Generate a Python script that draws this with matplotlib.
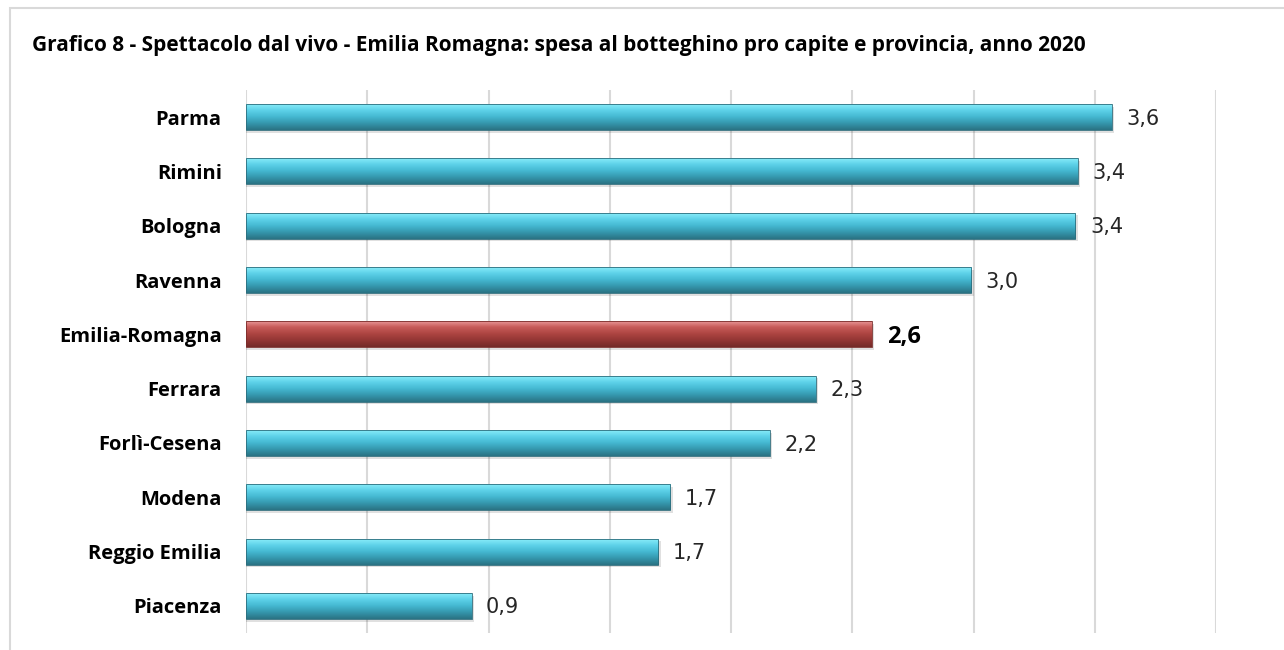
import numpy as np
import matplotlib.pyplot as plt
from matplotlib.colors import LinearSegmentedColormap
from matplotlib.patches import Rectangle

province = ['Parma', 'Rimini', 'Bologna', 'Ravenna', 'Emilia-Romagna',
            'Ferrara', 'Forlì-Cesena', 'Modena', 'Reggio Emilia', 'Piacenza']
spesa = [3.57, 3.43, 3.42, 2.99, 2.58, 2.35, 2.16, 1.75, 1.70, 0.93]
etichette = ['3,6', '3,4', '3,4', '3,0', '2,6', '2,3', '2,2', '1,7', '1,7', '0,9']
evidenza = 'Emilia-Romagna'

plt.rcParams['font.family'] = ['Open Sans', 'DejaVu Sans']

cmap_blu = LinearSegmentedColormap.from_list(
    'blu', ['#8ff0fb', '#5fd3ea', '#45b9d2', '#3597ad', '#2a7384'])
cmap_rosso = LinearSegmentedColormap.from_list(
    'rosso', ['#eea0a0', '#c85c5a', '#ae4542', '#933634', '#742a28'])

fig = plt.figure(figsize=(12.84, 6.5), dpi=100)
fig.patches.append(Rectangle((10 / 1284, -0.1), 1.2, 1.1 - 8 / 650,
                             transform=fig.transFigure, fill=False,
                             edgecolor='#d9d9d9', linewidth=1.5))
ax = fig.add_axes([246 / 1284, 17 / 650, (1216 - 246) / 1284, (633 - 90) / 650])

y = np.arange(len(province))
h = 0.48
grad = np.linspace(0, 1, 64).reshape(-1, 1)

for i, (nome, v) in enumerate(zip(province, spesa)):
    cm = cmap_rosso if nome == evidenza else cmap_blu
    # ombra
    ax.add_patch(Rectangle((0, i - h / 2 + 0.05), v + 0.01, h, facecolor='#000000',
                           alpha=0.12, edgecolor='none', zorder=2))
    rect = Rectangle((0, i - h / 2), v, h, facecolor='none',
                     edgecolor='#2d6d7c' if nome != evidenza else '#7a2d2b',
                     linewidth=0.6, zorder=4)
    ax.add_patch(rect)
    im = ax.imshow(grad, cmap=cm, aspect='auto', extent=(0, v, i + h / 2, i - h / 2),
                   zorder=3, interpolation='bilinear')
    im.set_clip_path(rect)
    if nome == evidenza:
        ax.text(v + 0.065, i + 0.04, etichette[i], va='center', ha='left', fontsize=17,
                fontweight='bold', color='#000000', family='Open Sans')
    else:
        ax.text(v + 0.06, i + 0.03, etichette[i], va='center', ha='left', fontsize=15,
                color='#262626', family='DejaVu Sans')

ax.set_xlim(0, 4)
ax.set_ylim(len(province) - 0.5, -0.5)
ax.set_xticks(np.arange(0, 4.01, 0.5))
ax.set_yticks(y)
ax.set_yticklabels(province, fontsize=14.5, fontweight='bold')
ax.tick_params(axis='both', length=0)
ax.tick_params(axis='y', pad=17.5)
ax.set_xticklabels([])
ax.grid(axis='x', color='#d9d9d9', linewidth=1.5, zorder=0)
ax.set_axisbelow(True)
for s in ax.spines.values():
    s.set_visible(False)

fig.text(32 / 1284, 1 - 45 / 650, 'Grafico 8 - Spettacolo dal vivo - Emilia Romagna: spesa al botteghino pro capite e provincia, anno 2020',
         fontsize=15, fontweight='bold', va='center', ha='left')

fig.savefig('out.png', dpi=100)
